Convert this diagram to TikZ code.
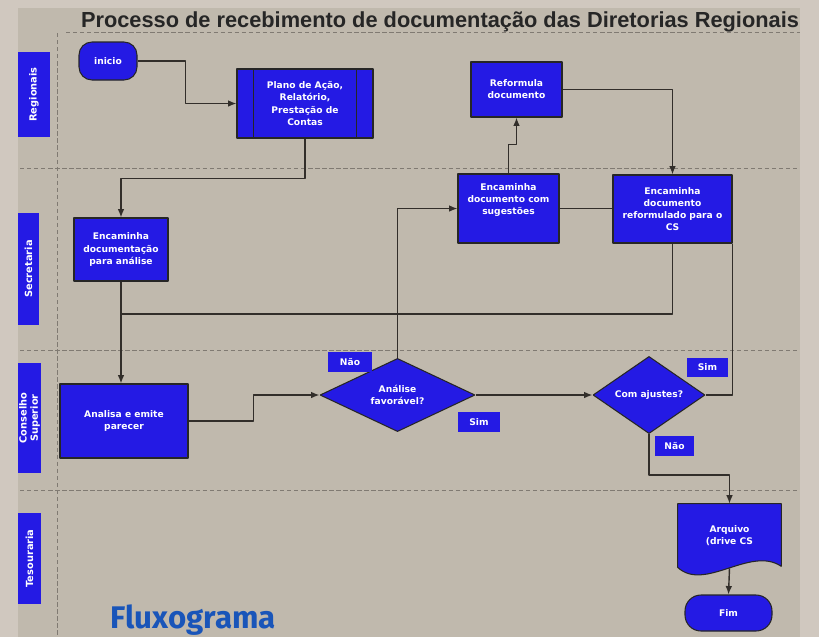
\documentclass[tikz,border=0pt]{standalone}
\usepackage{fontspec}
\setmainfont{Liberation Sans}
\setsansfont{DejaVu Sans}
\newfontfamily\fluxfont{Fira Sans}
\usetikzlibrary{arrows,arrows.meta,shapes,positioning,calc}
\definecolor{paper}{RGB}{192,185,173}
\definecolor{marble}{RGB}{208,200,191}
\definecolor{boxblue}{RGB}{36,26,228}
\definecolor{wire}{RGB}{50,46,42}
\definecolor{lanegray}{RGB}{128,122,114}
\definecolor{fluxblue}{RGB}{25,85,185}
\newdimen\pxu \pxu=0.02cm
\tikzstyle{every node}=[font=\sffamily\bfseries\fontsize{5.2}{6.9}\selectfont, text centered]
\tikzstyle{line} = [draw=wire, line width=0.8pt]
\tikzstyle{arrowline} = [line, -{Latex[length=4.8pt,width=3.8pt]}]
\tikzstyle{laneline} = [draw=lanegray, line width=0.5pt, dash pattern=on 2.5pt off 1.5pt]
\tikzstyle{etapa} = [draw=black!85, line width=0.6pt, fill=boxblue, text=white, align=center, inner sep=1pt]
\tikzstyle{inicfim} = [etapa, rounded corners=13\pxu]
\tikzstyle{decisao} = [etapa, diamond, inner sep=0pt]
\tikzstyle{resposta} = [etapa, draw=none, minimum width=42\pxu, minimum height=20\pxu]
\tikzstyle{raia} = [fill=boxblue, text=white, align=center, rotate=90, inner sep=0pt,
                    font=\sffamily\bfseries\fontsize{5.6}{6.4}\selectfont]

\begin{document}
\begin{tikzpicture}[x=0.02cm,y=-0.02cm,line join=bevel]
    \useasboundingbox (0,0) rectangle (819,637);
    \fill[marble] (0,0) rectangle (819,637);
    \fill[paper] (18,8) rectangle (800,637);

    \node[anchor=base, inner sep=0pt, font=\rmfamily\bfseries\fontsize{12.4}{14}\selectfont, text=black!85] (titulo) at (440,27)
        {Processo de recebimento de documentação das Diretorias Regionais};

    % raias
    \draw[laneline] (66,32) -- (800,32);
    \draw[laneline] (57,33) -- (57,637);
    \draw[laneline] (20,168) -- (800,168);
    \draw[laneline] (20,350) -- (800,350);
    \draw[laneline] (20,490) -- (800,490);

    \node[raia, minimum width=85\pxu, minimum height=32\pxu] (regionais) at (34,94.5) {Regionais};
    \node[raia, minimum width=112\pxu, minimum height=21\pxu] (secretaria) at (28.5,269) {Secretaria};
    \node[raia, minimum width=110\pxu, minimum height=23\pxu] (conselho) at (29.5,418) {Conselho\\Superior};
    \node[raia, minimum width=91\pxu, minimum height=23\pxu] (tesouraria) at (29.5,558.5) {Tesouraria};

    % etapas
    \node[inicfim, minimum width=58\pxu, minimum height=38\pxu] (inicio) at (108,61) {inicio};
    \node[etapa, minimum width=136\pxu, minimum height=69\pxu] (plano) at (305,103.5)
        {Plano de Ação,\\Relatório,\\Prestação de\\Contas};
    \draw[black!85, line width=0.6pt] ([xshift=17\pxu]plano.north west) -- ([xshift=17\pxu]plano.south west);
    \draw[black!85, line width=0.6pt] ([xshift=-17\pxu]plano.north east) -- ([xshift=-17\pxu]plano.south east);
    \node[etapa, minimum width=91\pxu, minimum height=55\pxu] (reform) at (516.5,89.5) {Reformula\\documento};
    \node[etapa, minimum width=94\pxu, minimum height=63\pxu] (encdoc) at (121,249.5)
        {Encaminha\\documentação\\para análise};
    \node[etapa, minimum width=101\pxu, minimum height=69\pxu] (encsug) at (508.5,208.5)
        {Encaminha\\documento com\\sugestões\\[4pt]};
    \node[etapa, minimum width=119\pxu, minimum height=68\pxu] (encref) at (672.5,209)
        {Encaminha\\documento\\reformulado para o\\CS};
    \node[etapa, minimum width=128\pxu, minimum height=74\pxu] (analisa) at (124,421)
        {Analisa e emite\\parecer};
    \node[decisao, minimum width=155\pxu, minimum height=72\pxu] (fav) at (397.5,395)
        {Análise\\favorável?};
    \node[decisao, minimum width=112\pxu, minimum height=61\pxu] (comaj) at (649,395) {Com ajustes?};

    \node[minimum width=103\pxu, minimum height=64\pxu] (arq) at (729.5,536) {};
    \filldraw[fill=boxblue, draw=black!85, line width=0.6pt] (arq.north west) -- (arq.north east)
        -- ($(arq.south east)+(0,-2)$)
        .. controls ($(arq.south east)+(-31,-23)$) and ($(arq.south west)+(27,24)$) .. ($(arq.south west)+(0,-1)$)
        -- cycle;
    \node[text=white, align=center] (arqtexto) at (arq.center) {Arquivo\\(drive CS};
    \node[inicfim, minimum width=87\pxu, minimum height=36\pxu, rounded corners=16\pxu] (fim) at (728.5,613) {Fim};

    % respostas
    \node[resposta, minimum width=44\pxu] (naofav) at (350,362) {Não};
    \node[resposta] (simfav) at (479,422) {Sim};
    \node[resposta, minimum width=41\pxu, minimum height=19\pxu] (simaj) at (707.5,367.5) {Sim};
    \node[resposta, minimum width=39\pxu] (naoaj) at (674.5,446) {Não};

    % ligacoes
    \draw[arrowline] (inicio.east) -- ++(48,0) |- (plano.west);
    \draw[arrowline] (plano.south) -- ++(0,40) -| (encdoc.north);
    \draw[arrowline] (encdoc.south) -- (encdoc.south |- analisa.north);
    \coordinate (juncao) at (121,314);
    \draw[line] (encref.south) |- (juncao);
    \draw[arrowline] (analisa.east) -- ++(65,0) |- (fav.west);
    \draw[arrowline] (fav.north) |- (encsug.west);
    \draw[arrowline] (encsug.north) -- ++(0,-29) -| (reform.south);
    \draw[arrowline] (reform.east) -| (encref.north);
    \draw[line] (encsug.east) -- (encsug.east -| encref.west);
    \draw[arrowline] (fav.east) -- (comaj.west);
    \draw[line] (comaj.east) -| (encref.south east);
    \draw[arrowline] (comaj.south) -- ++(0,41) -| (arq.north);
    \draw[arrowline] (arq.south) -- (fim.north);

    \node[anchor=base west, inner sep=0pt, font=\fluxfont\bfseries\fontsize{17.8}{19}\selectfont, text=fluxblue] (rotulo) at (110,628) {Fluxograma};
\end{tikzpicture}
\end{document}
